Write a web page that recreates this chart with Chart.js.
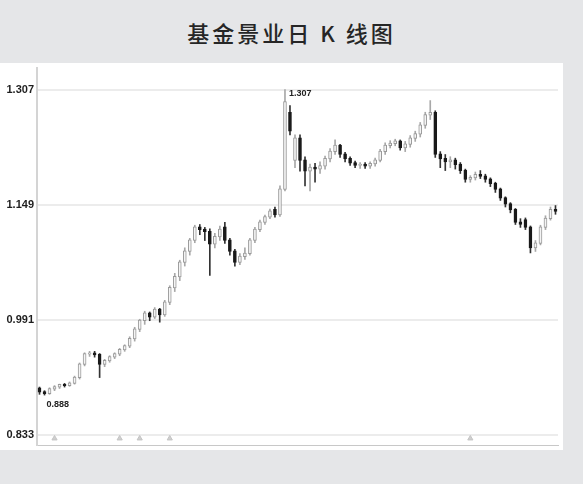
<!DOCTYPE html>
<html>
<head>
<meta charset="utf-8">
<script src="https://cdn.jsdelivr.net/npm/chart.js@4/dist/chart.umd.min.js"></script>
<style>
  body { margin: 0; background: #e5e6e8; width: 583px; height: 484px; overflow: hidden; }
  #title {
    position: absolute; left: 0; top: 16px; width: 583px; text-align: center;
    font-family: "Noto Sans CJK SC", sans-serif; font-size: 22px; letter-spacing: 3px;
    color: #262626; line-height: 32px; font-weight: 500;
  }
  #box { position: absolute; left: 0; top: 63px; width: 563px; height: 387px; background: #fff; }
  canvas { display: block; }
</style>
</head>
<body>
<div id="title">基金景业日 K 线图</div>
<div id="box"><canvas id="kChart" width="563" height="387"></canvas></div>
<script>
// daily candles
const opens = [
  0.897, 0.892, 0.890, 0.896, 0.899, 0.902, 0.901, 0.904, 0.912, 0.930,
  0.944, 0.945, 0.943, 0.930, 0.935, 0.940, 0.944, 0.950, 0.955, 0.965,
  0.978, 0.990, 1.000, 0.995, 1.005, 0.998, 1.015, 1.035, 1.050, 1.070,
  1.085, 1.100, 1.118, 1.115, 1.112, 1.095, 1.105, 1.118, 1.100, 1.085,
  1.070, 1.078, 1.082, 1.100, 1.115, 1.125, 1.132, 1.142, 1.135, 1.170,
  1.275, 1.210, 1.240, 1.210, 1.195, 1.200, 1.198, 1.202, 1.212, 1.222,
  1.230, 1.218, 1.212, 1.206, 1.203, 1.204, 1.202, 1.205, 1.210, 1.222,
  1.230, 1.233, 1.236, 1.227, 1.232, 1.240, 1.246, 1.258, 1.272, 1.275,
  1.218, 1.212, 1.208, 1.210, 1.204, 1.196, 1.184, 1.186, 1.190, 1.188,
  1.184, 1.178, 1.170, 1.158, 1.150, 1.142, 1.125, 1.128, 1.118, 1.090,
  1.096, 1.118, 1.130, 1.142
];
const closes = [
  0.892, 0.890, 0.896, 0.899, 0.902, 0.901, 0.904, 0.912, 0.930, 0.944,
  0.945, 0.943, 0.930, 0.935, 0.940, 0.944, 0.950, 0.955, 0.965, 0.978,
  0.990, 1.000, 0.995, 1.005, 0.998, 1.015, 1.035, 1.050, 1.070, 1.085,
  1.100, 1.118, 1.115, 1.112, 1.095, 1.105, 1.115, 1.100, 1.085, 1.070,
  1.078, 1.082, 1.100, 1.115, 1.125, 1.132, 1.140, 1.135, 1.170, 1.290,
  1.250, 1.240, 1.210, 1.195, 1.200, 1.198, 1.202, 1.212, 1.222, 1.230,
  1.218, 1.212, 1.206, 1.203, 1.204, 1.202, 1.205, 1.210, 1.222, 1.230,
  1.233, 1.236, 1.227, 1.232, 1.240, 1.246, 1.258, 1.272, 1.275, 1.218,
  1.212, 1.208, 1.210, 1.204, 1.196, 1.184, 1.186, 1.190, 1.188, 1.184,
  1.178, 1.170, 1.158, 1.150, 1.142, 1.125, 1.122, 1.118, 1.090, 1.096,
  1.118, 1.130, 1.142, 1.140
];
const highs = [
  0.899, 0.894, 0.898, 0.901, 0.903, 0.904, 0.906, 0.914, 0.932, 0.946,
  0.948, 0.948, 0.945, 0.937, 0.942, 0.946, 0.952, 0.957, 0.968, 0.981,
  0.992, 1.003, 1.002, 1.008, 1.007, 1.018, 1.038, 1.055, 1.073, 1.090,
  1.103, 1.121, 1.122, 1.118, 1.116, 1.110, 1.120, 1.125, 1.103, 1.088,
  1.082, 1.090, 1.103, 1.118, 1.128, 1.135, 1.143, 1.146, 1.175, 1.307,
  1.285, 1.245, 1.245, 1.215, 1.205, 1.206, 1.208, 1.216, 1.226, 1.238,
  1.232, 1.221, 1.215, 1.209, 1.207, 1.207, 1.208, 1.213, 1.225, 1.234,
  1.237, 1.239, 1.238, 1.236, 1.244, 1.250, 1.262, 1.276, 1.292, 1.278,
  1.222, 1.218, 1.215, 1.213, 1.207, 1.198, 1.189, 1.194, 1.196, 1.191,
  1.186, 1.180, 1.172, 1.160, 1.152, 1.144, 1.130, 1.131, 1.120, 1.100,
  1.121, 1.134, 1.146, 1.148
];
const lows = [
  0.889, 0.888, 0.889, 0.894, 0.897, 0.899, 0.900, 0.903, 0.910, 0.928,
  0.941, 0.940, 0.912, 0.927, 0.933, 0.938, 0.942, 0.948, 0.953, 0.962,
  0.975, 0.985, 0.990, 0.993, 0.988, 0.996, 1.012, 1.030, 1.045, 1.065,
  1.080, 1.097, 1.108, 1.100, 1.052, 1.090, 1.100, 1.096, 1.080, 1.065,
  1.067, 1.074, 1.080, 1.097, 1.112, 1.122, 1.130, 1.132, 1.133, 1.168,
  1.245, 1.200, 1.195, 1.175, 1.168, 1.180, 1.192, 1.198, 1.208, 1.218,
  1.214, 1.208, 1.203, 1.200, 1.199, 1.199, 1.199, 1.202, 1.208, 1.218,
  1.227, 1.230, 1.224, 1.222, 1.228, 1.236, 1.242, 1.254, 1.266, 1.214,
  1.200, 1.196, 1.200, 1.198, 1.192, 1.180, 1.180, 1.183, 1.185, 1.180,
  1.174, 1.166, 1.155, 1.146, 1.138, 1.122, 1.118, 1.115, 1.083, 1.085,
  1.094, 1.115, 1.128, 1.136
];
const yTicks = [0.833, 0.991, 1.149, 1.307];
const markerIdx = [3, 16, 20, 26, 86];

const labels = opens.map((_, i) => String(i + 1));
const isUp = i => closes[i] >= opens[i];

const bodies = opens.map((o, i) => [Math.min(o, closes[i]), Math.max(o, closes[i]) + 0.0008]);
const wicks = lows.map((l, i) => [l, highs[i]]);
const markers = labels.map((_, i) => markerIdx.includes(i) ? 0.8285 : null);

const hiIdx = highs.indexOf(Math.max(...highs));
const loIdx = lows.indexOf(Math.min(...lows));

// writes the high / low values next to their candles
const extremesLabel = {
  id: "extremesLabel",
  afterDatasetsDraw(chart) {
    const ctx = chart.ctx;
    const x = chart.scales.x, y = chart.scales.y;
    ctx.save();
    ctx.fillStyle = "#222";
    ctx.font = "bold 9px 'Liberation Sans'";
    ctx.textBaseline = "middle";
    ctx.textAlign = "left";
    ctx.fillText("1.307", x.getPixelForValue(hiIdx) + 4, y.getPixelForValue(highs[hiIdx]) + 4);
    ctx.fillText("0.888", x.getPixelForValue(loIdx) + 2, y.getPixelForValue(lows[loIdx]) + 9);
    ctx.restore();
  }
};

new Chart(document.getElementById("kChart"), {
  type: "bar",
  data: {
    labels: labels,
    datasets: [
      {
        label: "body",
        data: bodies,
        grouped: false,
        order: 0,
        barThickness: 3,
        backgroundColor: c => isUp(c.dataIndex) ? "#f4f4f4" : "#1a1a1a",
        borderColor: c => isUp(c.dataIndex) ? "#999999" : "#1a1a1a",
        borderWidth: 1,
        borderSkipped: false
      },
      {
        label: "wick",
        data: wicks,
        grouped: false,
        order: 1,
        barThickness: 1,
        backgroundColor: c => isUp(c.dataIndex) ? "#a8a8a8" : "#333333"
      },
      {
        type: "line",
        label: "marks",
        data: markers,
        showLine: false,
        order: 2,
        pointStyle: "triangle",
        pointRadius: 3,
        pointBackgroundColor: "#cfcfcf",
        pointBorderColor: "#c4c4c4"
      }
    ]
  },
  options: {
    responsive: false,
    animation: false,
    layout: { padding: { top: 2, right: 3, bottom: 3, left: 0 } },
    plugins: { legend: { display: false }, tooltip: { enabled: false } },
    scales: {
      x: {
        offset: true,
        ticks: { display: false },
        grid: { display: false },
        border: { display: true, color: "#c8c8c8", width: 1 },
        afterFit: s => { s.height = 0; s.paddingLeft = 0; s.paddingRight = 0; }
      },
      y: {
        min: 0.8195,
        max: 1.3367,
        afterBuildTicks: s => { s.ticks = yTicks.map(v => ({ value: v })); },
        afterFit: s => { s.width = 37; s.paddingTop = 0; s.paddingBottom = 0; },
        ticks: {
          color: "#1e1e1e",
          padding: 3,
          font: { family: "Liberation Sans", size: 11, weight: "bold" },
          callback: v => Number(v).toFixed(3)
        },
        grid: { color: "#ececec", lineWidth: 2, drawTicks: false },
        border: { display: true, color: "#d4d4d4", width: 2 }
      }
    }
  },
  plugins: [extremesLabel]
});
</script>
</body>
</html>
